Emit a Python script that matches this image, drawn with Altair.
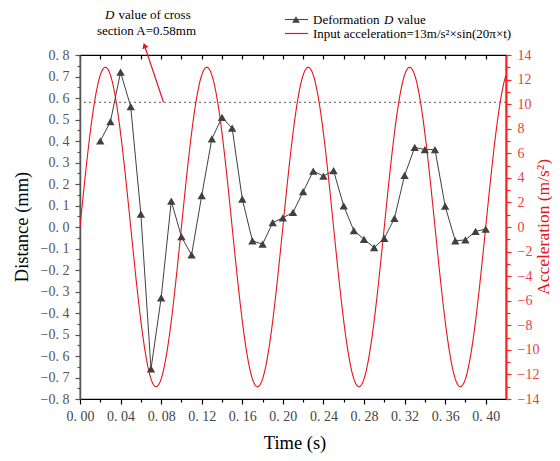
import altair as alt
import pandas as pd
import numpy as np

# ---------------- data ----------------
time_s = [0.02, 0.03, 0.04, 0.05, 0.06, 0.07, 0.08, 0.09, 0.10, 0.11,
          0.12, 0.13, 0.14, 0.15, 0.16, 0.17, 0.18, 0.19, 0.20, 0.21,
          0.22, 0.23, 0.24, 0.25, 0.26, 0.27, 0.28, 0.29, 0.30, 0.31,
          0.32, 0.33, 0.34, 0.35, 0.36, 0.37, 0.38, 0.39, 0.40]
deform_mm = [0.40, 0.49, 0.72, 0.56, 0.06, -0.66, -0.33, 0.12, -0.045, -0.13,
             0.146, 0.41, 0.51, 0.46, 0.13, -0.064, -0.08, 0.02, 0.043, 0.068,
             0.164, 0.26, 0.237, 0.262, 0.098, -0.017, -0.057, -0.096, -0.053, 0.04,
             0.24, 0.37, 0.36, 0.36, 0.097, -0.064, -0.06, -0.02, -0.01]

# input acceleration as stated in the legend: 13 m/s^2 * sin(20*pi*t)
accel_amp = 13.0
accel_freq_hz = 10.0
t_curve = np.linspace(0.0, 0.42, 841)
accel_vals = accel_amp * np.sin(2 * np.pi * accel_freq_hz * t_curve)

ref_value = 0.58
arrow_t = [0.0823, 0.0636]
arrow_y = [0.58, 0.844]

x_ticks = [round(0.02 * i, 2) for i in range(21)]
left_ticks = [round(-0.8 + 0.05 * i, 2) for i in range(33)]
right_ticks = list(range(-14, 15))

# ---------------- styling ----------------
SERIF = "Liberation Serif"
RED = "#e8141b"
RED_LBL = "#e8413c"
GRAY = "#404040"

df_def = pd.DataFrame({"t": time_s, "d": deform_mm})
df_acc = pd.DataFrame({"t": t_curve, "a": accel_vals})
df_ref = pd.DataFrame({"y": [ref_value]})
df_arrow = pd.DataFrame({"t": arrow_t, "y": arrow_y})
df_head = pd.DataFrame({"t": [arrow_t[1]], "y": [arrow_y[1]]})

x_scale = alt.Scale(domain=[0, 0.42], nice=False, zero=False)
yL = alt.Scale(domain=[-0.8, 0.8], nice=False, zero=False)
yR = alt.Scale(domain=[-14, 14], nice=False, zero=False)

bottom_axis = alt.Axis(
    orient="bottom", values=x_ticks, title=None, grid=False, labelOverlap=False, labelFlush=False,
    labelExpr="round(datum.value*100) % 4 == 0 ? replace(format(datum.value, '.2f'), '.', '. ') : ''",
    tickSize={"condition": {"test": "round(datum.value*100) % 4 == 0", "value": 5}, "value": 3},
    domainColor="black", domainWidth=1.2, tickColor="black", tickWidth=1.2,
    labelColor="#444444", labelFont=SERIF, labelFontSize=14, labelPadding=5,
)
top_axis = alt.Axis(
    orient="top", values=x_ticks, title=None, grid=False, labels=False,
    domain=False, tickSize=4, offset=-4, tickColor="black", tickWidth=1.2,
)
left_axis = alt.Axis(
    orient="left", values=left_ticks, title=None, grid=False, labelOverlap=False, labelFlush=False,
    labelExpr="round(datum.value*100) % 10 == 0 ? replace(format(datum.value, '.1f'), '.', '. ') : ''",
    tickSize={"condition": {"test": "round(datum.value*100) % 10 == 0", "value": 5}, "value": 3},
    domainColor="#555555", domainWidth=1.5, tickColor="#555555", tickWidth=1.2,
    labelColor="#555555", labelFont=SERIF, labelFontSize=14, labelPadding=6,
)
right_axis = alt.Axis(
    orient="right", values=right_ticks, title=None, grid=False, labelOverlap=False, labelFlush=False,
    labelExpr="datum.value % 2 == 0 ? format(datum.value, 'd') : ''",
    tickSize={"condition": {"test": "datum.value % 2 == 0", "value": 5}, "value": 4},
    domainColor="#ff2020", domainWidth=2, tickColor="#ff2020", tickWidth=1.2,
    labelColor=RED_LBL, labelFont=SERIF, labelFontSize=14, labelPadding=6,
)

ref_rule = alt.Chart(df_ref).mark_rule(color="#555555", strokeDash=[2, 3], strokeWidth=1).encode(
    y=alt.Y("y:Q", scale=yL, axis=None)
)
accel_line = alt.Chart(df_acc).mark_line(color=RED, strokeWidth=1.1, clip=True).encode(
    x=alt.X("t:Q", scale=x_scale, axis=top_axis),
    y=alt.Y("a:Q", scale=yR, axis=right_axis),
)
def_line = alt.Chart(df_def).mark_line(color=GRAY, strokeWidth=1).encode(
    x=alt.X("t:Q", scale=x_scale, axis=bottom_axis),
    y=alt.Y("d:Q", scale=yL, axis=left_axis),
)
def_pts = alt.Chart(df_def).mark_point(shape="triangle-up", filled=True, size=70, color=GRAY, opacity=1).encode(
    x=alt.X("t:Q", scale=x_scale, axis=None),
    y=alt.Y("d:Q", scale=yL, axis=None),
)
arrow_line = alt.Chart(df_arrow).mark_line(color=RED, strokeWidth=1.2).encode(
    x=alt.X("t:Q", scale=x_scale, axis=None),
    y=alt.Y("y:Q", scale=yL, axis=None),
)
arrow_head = alt.Chart(df_head).mark_point(shape="triangle-up", filled=True, size=40, color=RED, opacity=1, angle=341).encode(
    x=alt.X("t:Q", scale=x_scale, axis=None),
    y=alt.Y("y:Q", scale=yL, axis=None),
)


def txt(s, x, y, size=13, color="black", style="normal", angle=0, align="left"):
    return alt.Chart(pd.DataFrame({"s": [s]})).mark_text(
        font=SERIF, fontSize=size, color=color, fontStyle=style, angle=angle,
        align=align, baseline="middle",
    ).encode(text="s:N", x=alt.value(x), y=alt.value(y))


texts = [
    # annotation
    txt("D", 25, -40, style="italic"),
    txt("value of cross", 38.5, -40),
    txt("section A=0.58mm", 66.5, -24, align="center"),
    # legend
    txt("Deformation", 233, -35.5),
    txt("D", 304, -35.5, style="italic"),
    txt("value", 317.5, -35.5),
    txt("Input acceleration=13m/s²×sin(20π×t)", 233, -21.5),
    # axis titles
    txt("Time (s)", 215, 388, size=18.5, align="center"),
    txt("Distance (mm)", -58, 172, size=18.5, angle=270, align="center"),
    txt("Acceleration (m/s²)", 464, 172, size=17.5, color=RED, angle=270, align="center"),
]

legend_line1 = alt.Chart(pd.DataFrame({"k": [1]})).mark_rule(color=GRAY, strokeWidth=1).encode(
    x=alt.value(205), x2=alt.value(228), y=alt.value(-35.5)
)
legend_tri = alt.Chart(pd.DataFrame({"k": [1]})).mark_point(shape="triangle-up", filled=True, size=60, color=GRAY, opacity=1).encode(
    x=alt.value(216), y=alt.value(-35.5)
)
legend_line2 = alt.Chart(pd.DataFrame({"k": [1]})).mark_rule(color=RED, strokeWidth=1.2).encode(
    x=alt.value(205), x2=alt.value(228), y=alt.value(-21.5)
)

chart = alt.layer(
    ref_rule, accel_line, def_line, def_pts, arrow_line, arrow_head,
    legend_line1, legend_tri, legend_line2, *texts
).resolve_scale(
    y="independent"
).resolve_axis(
    x="independent", y="independent"
).properties(
    width=426, height=344,
    autosize=alt.AutoSizeParams(type="none"),
    padding={"left": 72, "top": 47, "right": 46, "bottom": 54},
).configure_view(
    stroke="black", strokeWidth=1.2
)

chart.save("out.html", embed_options={"renderer": "svg", "actions": False})
